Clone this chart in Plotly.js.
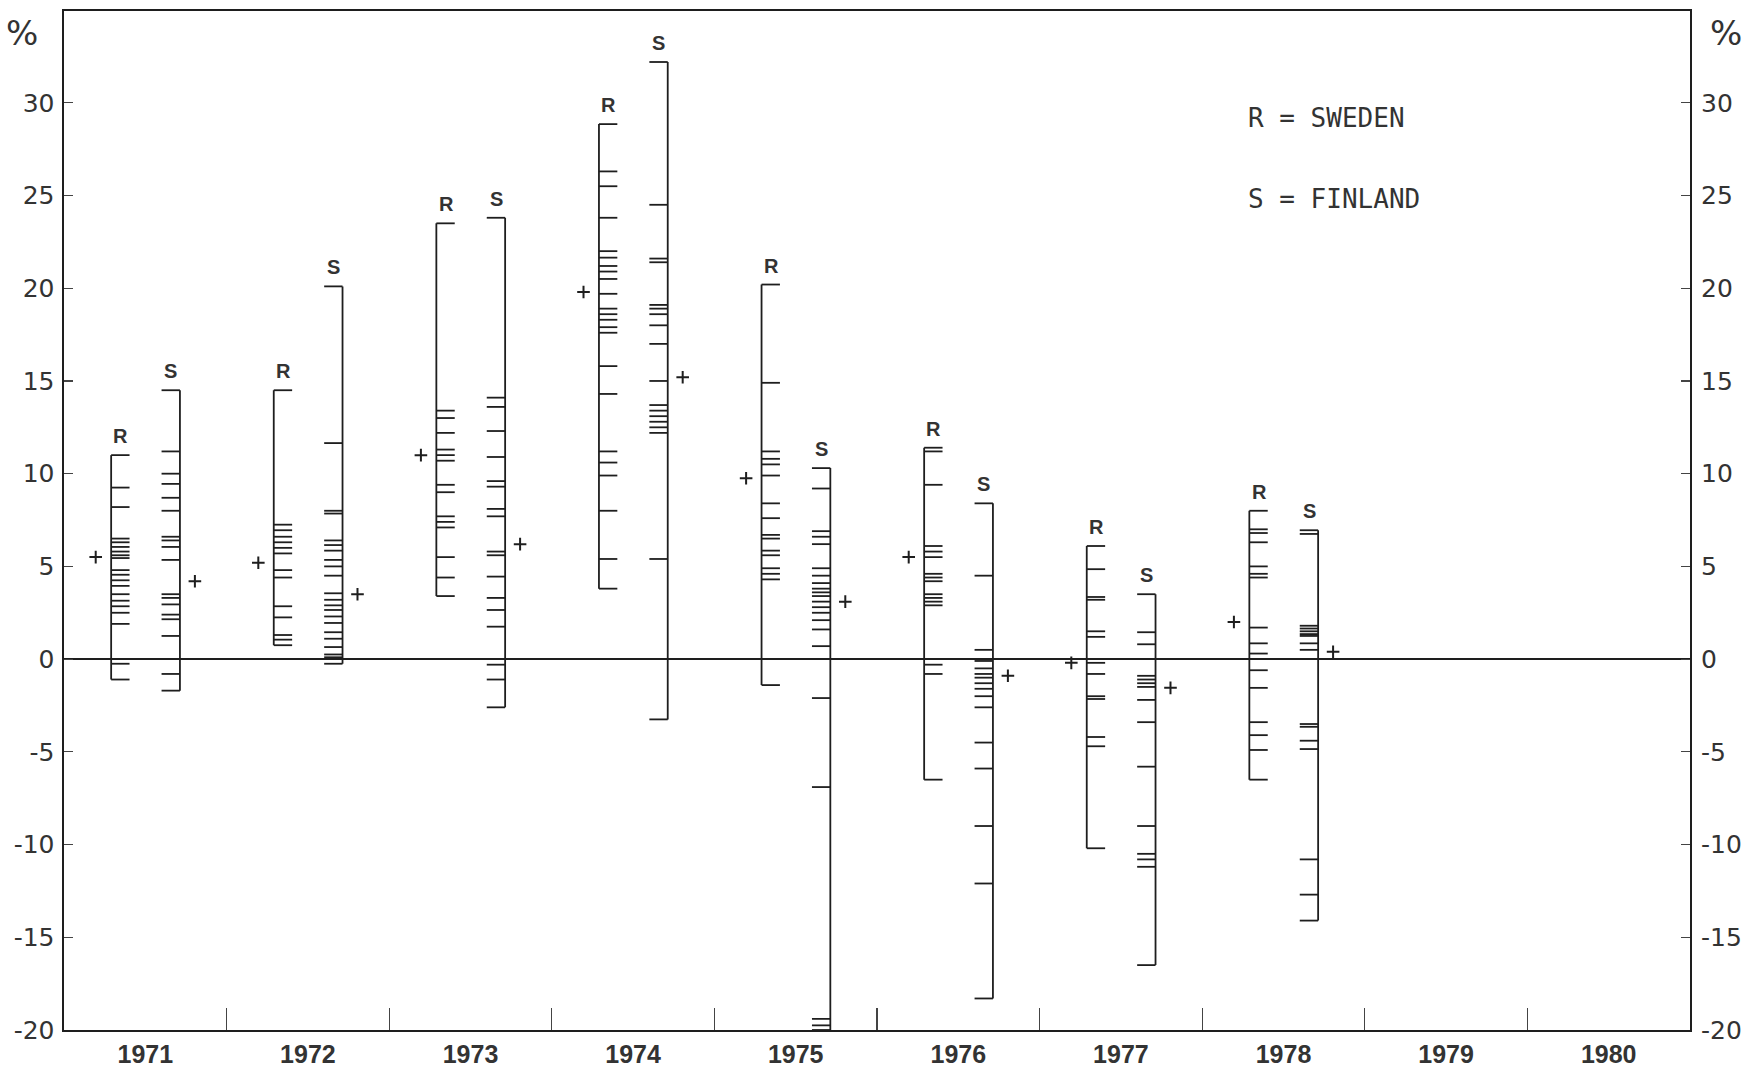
<!DOCTYPE html>
<html><head><meta charset="utf-8">
<script src="https://cdn.plot.ly/plotly-3.0.1.min.js"></script>
<style>html,body{margin:0;padding:0;background:#fff}#chart{width:1752px;height:1069px}</style>
</head><body><div id="chart"></div>
<script>
// ---- data (percent) ----
const years = [1971, 1972, 1973, 1974, 1975, 1976, 1977, 1978];
const axisYears = [1971, 1972, 1973, 1974, 1975, 1976, 1977, 1978, 1979, 1980];
const yTickVals = [-20, -15, -10, -5, 0, 5, 10, 15, 20, 25, 30];
const yTickText = ['-20', '-15', '-10', '-5', '0', '5', '10', '15', '20', '25', '30'];

const sweden1971 = [11.0, 9.25, 8.2, 6.5, 6.3, 6.05, 5.8, 5.6, 5.45, 4.8, 4.55, 4.25, 3.95, 3.5, 3.15, 2.85, 2.5, 1.9, -0.25, -1.1];
const finland1971 = [14.5, 11.2, 10.0, 9.45, 8.7, 8.0, 6.6, 6.4, 6.05, 5.35, 3.5, 3.3, 2.95, 2.4, 2.15, 1.25, -0.8, -1.7];
const sweden1972 = [14.5, 7.25, 6.95, 6.6, 6.3, 6.0, 5.7, 4.8, 4.4, 2.85, 2.25, 1.3, 1.05, 0.75];
const finland1972 = [20.1, 11.65, 8.0, 7.85, 6.4, 6.15, 5.85, 5.35, 5.0, 4.5, 3.55, 3.2, 2.9, 2.65, 2.3, 1.95, 1.45, 1.1, 0.65, 0.25, 0.1, -0.25];
const sweden1973 = [23.5, 13.4, 13.0, 12.2, 11.3, 11.0, 10.7, 9.4, 9.0, 7.7, 7.4, 7.1, 5.5, 4.4, 3.4];
const finland1973 = [23.8, 14.1, 13.6, 12.3, 10.9, 9.6, 9.3, 8.1, 7.7, 5.8, 5.6, 4.45, 3.3, 2.65, 1.75, -0.3, -1.1, -2.6];
const sweden1974 = [28.85, 26.3, 25.5, 23.8, 22.0, 21.65, 21.2, 20.9, 20.5, 19.7, 18.9, 18.6, 18.3, 17.9, 17.6, 15.8, 14.3, 11.2, 10.6, 9.9, 8.0, 5.4, 3.8];
const finland1974 = [32.2, 24.5, 21.6, 21.4, 19.1, 18.9, 18.6, 18.0, 17.0, 15.0, 13.7, 13.4, 13.1, 12.8, 12.5, 12.2, 5.4, -3.25];
const sweden1975 = [20.2, 14.9, 11.2, 10.8, 10.5, 9.9, 8.4, 7.6, 6.7, 6.5, 5.85, 5.6, 4.9, 4.6, 4.3, -1.4];
const finland1975 = [10.3, 9.2, 6.9, 6.6, 6.2, 4.9, 4.5, 4.1, 3.8, 3.6, 3.4, 3.1, 2.8, 2.5, 2.1, 1.6, 0.7, -2.1, -6.9, -19.4, -19.75, -20.0];
const sweden1976 = [11.4, 11.2, 9.4, 6.1, 5.8, 5.5, 4.6, 4.4, 4.2, 3.5, 3.3, 3.1, 2.9, -0.3, -0.8, -6.5];
const finland1976 = [8.4, 4.5, 0.5, -0.1, -0.5, -0.8, -1.0, -1.3, -1.6, -2.0, -2.6, -4.5, -5.9, -9.0, -12.1, -18.3];
const sweden1977 = [6.1, 4.85, 3.35, 3.2, 1.5, 1.2, -0.2, -0.8, -2.0, -2.15, -4.2, -4.7, -10.2];
const finland1977 = [3.5, 1.45, 0.8, -0.9, -1.1, -1.3, -1.5, -2.2, -3.4, -5.8, -9.0, -10.5, -10.8, -11.2, -16.5];
const sweden1978 = [8.0, 7.0, 6.8, 6.3, 5.0, 4.6, 4.4, 1.7, 0.85, 0.3, -0.6, -1.55, -3.4, -4.1, -4.9, -6.5];
const finland1978 = [6.95, 6.75, 1.8, 1.65, 1.5, 1.35, 1.25, 0.85, 0.5, -3.5, -3.65, -4.4, -4.85, -10.8, -12.7, -14.1];

const swedenMeans = [5.5, 5.2, 11.0, 19.8, 9.75, 5.5, -0.2, 2.0];
const finlandMeans = [4.2, 3.5, 6.2, 15.2, 3.1, -0.9, -1.55, 0.4];

const swedenLetter = 'R';
const finlandLetter = 'S';
const legendLines = ['R = SWEDEN', 'S = FINLAND'];
const percentSign = '%';

// ---- build ----
const swedenSets = [sweden1971, sweden1972, sweden1973, sweden1974, sweden1975, sweden1976, sweden1977, sweden1978];
const finlandSets = [finland1971, finland1972, finland1973, finland1974, finland1975, finland1976, finland1977, finland1978];

const INK = '#1e1e1e';
const TICK_LEN = 0.113;
function groupTrace(sets, lineOff, tickFrom, tickTo) {
  const xs = [], ys = [];
  sets.forEach((vals, i) => {
    const yr = years[i];
    const mx = Math.max(...vals), mn = Math.min(...vals);
    xs.push(yr + lineOff, yr + lineOff, null);
    ys.push(mn, mx, null);
    vals.forEach(v => {
      xs.push(yr + tickFrom, yr + tickTo, null);
      ys.push(v, v, null);
    });
  });
  return {x: xs, y: ys, type: 'scatter', mode: 'lines', line: {color: INK, width: 1.8}, hoverinfo: 'skip', showlegend: false};
}

const rLine = -0.21, sLine = 0.213;
const traces = [
  groupTrace(swedenSets, rLine, rLine, rLine + TICK_LEN),
  groupTrace(finlandSets, sLine, sLine - TICK_LEN, sLine),
  {x: years.map(y => y - 0.305), y: swedenMeans, type: 'scatter', mode: 'markers',
   marker: {symbol: 'cross-thin', size: 9, line: {color: INK, width: 2}}, showlegend: false, hoverinfo: 'skip'},
  {x: years.map(y => y + 0.305), y: finlandMeans, type: 'scatter', mode: 'markers',
   marker: {symbol: 'cross-thin', size: 9, line: {color: INK, width: 2}}, showlegend: false, hoverinfo: 'skip'},
  {x: [axisYears[0]], y: [0], yaxis: 'y2', type: 'scatter', mode: 'markers', opacity: 0, showlegend: false, hoverinfo: 'skip'}
];

const annotations = [];
years.forEach((yr, i) => {
  annotations.push({x: yr - 0.15, y: Math.max(...swedenSets[i]), text: swedenLetter, showarrow: false,
    xanchor: 'center', yanchor: 'bottom', yshift: 6, font: {family: 'Liberation Sans, Arial, sans-serif', size: 20, color: '#333', weight: 'bold'}});
  annotations.push({x: yr + 0.158, y: Math.max(...finlandSets[i]), text: finlandLetter, showarrow: false,
    xanchor: 'center', yanchor: 'bottom', yshift: 6, font: {family: 'Liberation Sans, Arial, sans-serif', size: 20, color: '#333', weight: 'bold'}});
});
annotations.push({x: 1977.77, y: 29.2, text: legendLines[0], showarrow: false, xanchor: 'left', yanchor: 'middle',
  font: {family: 'DejaVu Sans Mono, monospace', size: 26, color: '#333'}});
annotations.push({x: 1977.77, y: 24.8, text: legendLines[1], showarrow: false, xanchor: 'left', yanchor: 'middle',
  font: {family: 'DejaVu Sans Mono, monospace', size: 26, color: '#333'}});
annotations.push({xref: 'paper', yref: 'paper', x: -0.015, y: 0.978, text: percentSign, showarrow: false, xanchor: 'right', yanchor: 'middle',
  font: {family: 'DejaVu Sans, sans-serif', size: 34, color: '#333'}});
annotations.push({xref: 'paper', yref: 'paper', x: 1.011, y: 0.978, text: percentSign, showarrow: false, xanchor: 'left', yanchor: 'middle',
  font: {family: 'DejaVu Sans, sans-serif', size: 34, color: '#333'}});

const yFont = {family: 'DejaVu Sans, sans-serif', size: 25, color: '#333'};
const layout = {
  width: 1752, height: 1069,
  margin: {l: 64, r: 62, t: 11, b: 39, pad: 0},
  paper_bgcolor: '#fff', plot_bgcolor: '#fff',
  showlegend: false,
  xaxis: {
    range: [axisYears[0] - 0.5, axisYears[axisYears.length - 1] + 0.5],
    tickmode: 'array', tickvals: axisYears, ticktext: axisYears.map(String),
    ticks: '', showgrid: false, zeroline: false,
    showline: true, mirror: true, linecolor: INK, linewidth: 2,
    tickfont: {family: 'Liberation Sans Narrow, Arial Narrow, sans-serif', size: 25, color: '#333', weight: 'bold'},
    ticklabelstandoff: 1,
    minor: {tickmode: 'array', tickvals: axisYears.slice(0, -1).map(y => y + 0.5), ticks: 'inside', ticklen: 22, tickwidth: 1.2, tickcolor: '#444', showgrid: false}
  },
  yaxis: {
    range: [-20, 34.95], tickmode: 'array', tickvals: yTickVals, ticktext: yTickText,
    ticks: 'inside', ticklen: 9, tickwidth: 1.2, tickcolor: '#444',
    showgrid: false, zeroline: true, zerolinecolor: INK, zerolinewidth: 2,
    showline: true, linecolor: INK, linewidth: 2.5, tickfont: yFont, ticklabelstandoff: 2
  },
  yaxis2: {
    range: [-20, 34.95], overlaying: 'y', side: 'right', tickmode: 'array', tickvals: yTickVals, ticktext: yTickText,
    ticks: 'inside', ticklen: 9, tickwidth: 1.2, tickcolor: '#444',
    showgrid: false, zeroline: false,
    showline: true, linecolor: INK, linewidth: 2, tickfont: yFont, ticklabelstandoff: 4
  },
  annotations: annotations
};

Plotly.newPlot('chart', traces, layout, {staticPlot: true, displayModeBar: false});
</script>
</body></html>
